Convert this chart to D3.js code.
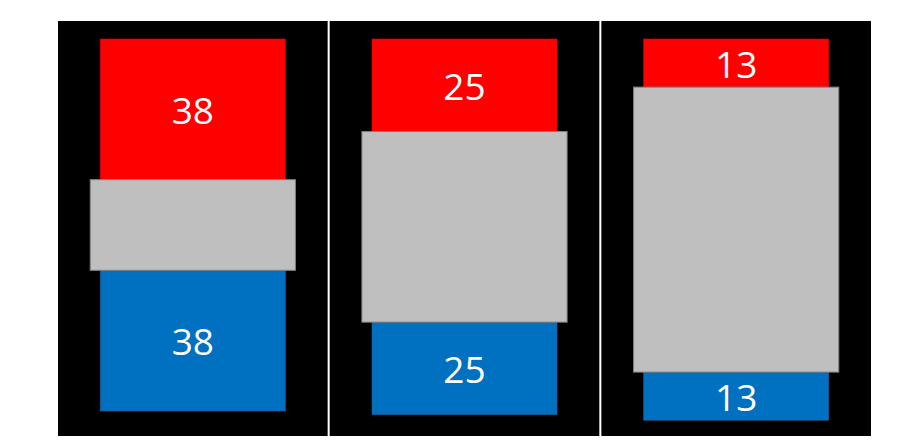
<!DOCTYPE html>
<html>
<head>
<meta charset="utf-8">
<script src="https://cdn.jsdelivr.net/npm/d3@7"></script>
<style>
  html, body { margin: 0; padding: 0; background: #ffffff; }
  svg { display: block; }
</style>
</head>
<body>
<svg id="chart" width="914" height="446"></svg>
<script>
// ---- data ----
const categories = ["Panel 1", "Panel 2", "Panel 3"];
const redValues = [38, 25, 13];
const grayValues = [24.5, 51.5, 77];
const blueValues = [38, 25, 13];
const seriesKeys = ["red", "gray", "blue"];

// ---- build table ----
const table = categories.map((c, i) => ({
  cat: c, red: redValues[i], gray: grayValues[i], blue: blueValues[i]
}));
const stacked = d3.stack().keys(seriesKeys)(table);

const svg = d3.select("#chart");

const x = d3.scaleBand()
  .domain(categories)
  .range([58, 871])
  .paddingInner(0.0075)
  .paddingOuter(0);

const y = d3.scaleLinear()
  .domain([0, 102.4])
  .range([39, 418]);

const colors = { red: "#FF0000", gray: "#BFBFBF", blue: "#0070C0" };
const widthFrac = { red: 0.686, gray: 0.761, blue: 0.686 };

// panel backgrounds
svg.append("g").selectAll("rect")
  .data(categories)
  .join("rect")
  .attr("x", d => x(d))
  .attr("y", 21)
  .attr("width", x.bandwidth())
  .attr("height", 415)
  .attr("fill", "#000000");

// draw red and blue first, then gray on top
const order = ["red", "blue", "gray"];
order.forEach(key => {
  const layer = stacked.find(s => s.key === key);
  const w = x.bandwidth() * widthFrac[key];
  svg.append("g").selectAll("rect")
    .data(layer)
    .join("rect")
    .attr("x", d => x(d.data.cat) + (x.bandwidth() - w) / 2)
    .attr("y", d => y(d[0]))
    .attr("width", w)
    .attr("height", d => y(d[1]) - y(d[0]))
    .attr("fill", colors[key])
    .attr("stroke", key === "gray" ? "#7F7F7F" : (key === "blue" ? "#1F5F99" : "#E00000"))
    .attr("stroke-width", key === "gray" ? 1 : 0.6);
});

// labels for red and blue
["red", "blue"].forEach(key => {
  const layer = stacked.find(s => s.key === key);
  svg.append("g").selectAll("text")
    .data(layer)
    .join("text")
    .attr("x", d => x(d.data.cat) + x.bandwidth() / 2)
    .attr("y", d => (y(d[0]) + y(d[1])) / 2 + 14.5)
    .attr("text-anchor", "middle")
    .attr("fill", "#ffffff")
    .attr("font-family", "'Open Sans', 'Noto Sans', sans-serif")
    .attr("font-size", 37)
    .text(d => d.data[key]);
});
</script>
</body>
</html>
